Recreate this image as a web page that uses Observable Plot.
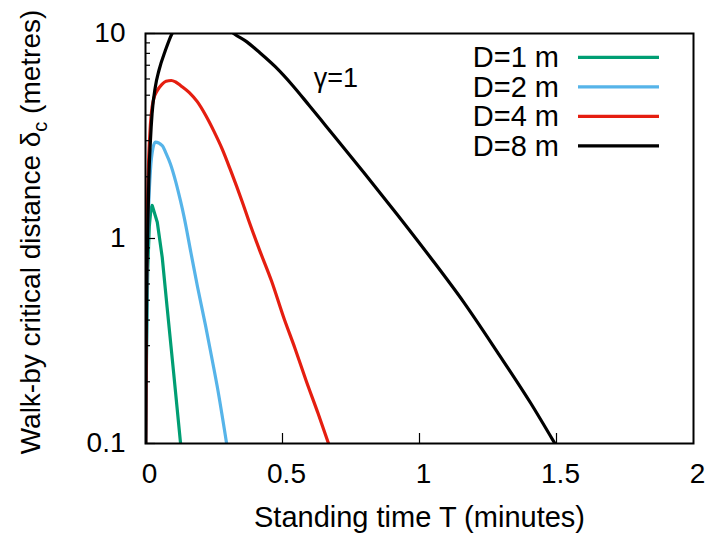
<!DOCTYPE html>
<html><head><meta charset="utf-8">
<script src="https://cdn.jsdelivr.net/npm/d3@7"></script>
<script src="https://cdn.jsdelivr.net/npm/@observablehq/plot@0.6"></script>
<style>
html,body{margin:0;padding:0;background:#fff;}
</style>
</head><body><div id="chart"></div>
<script>
// Series names and colours
const seriesNames = ["D=1 m", "D=2 m", "D=4 m", "D=8 m"];
const seriesColors = ["#009e73", "#56b4e9", "#e51e10", "#000000"];

// D = 1 m
const tD1 = [0.001, 0.004, 0.008, 0.014, 0.02, 0.0245, 0.043, 0.061, 0.079, 0.103, 0.128];
const dD1 = [0.1, 0.3, 0.7, 1.15, 1.4, 1.45, 1.2, 0.81, 0.46, 0.219, 0.1];

// D = 2 m
const tD2 = [0.001, 0.005, 0.01, 0.018, 0.027, 0.036, 0.061, 0.075, 0.091, 0.11, 0.128, 0.14, 0.166, 0.19, 0.219, 0.24, 0.262, 0.296];
const dD2 = [0.1, 0.5, 1.2, 2.15, 2.75, 2.95, 2.84, 2.6, 2.31, 1.9, 1.52, 1.29, 0.85, 0.58, 0.377, 0.27, 0.189, 0.1];

// D = 4 m
const tD4 = [0.001, 0.004, 0.008, 0.012, 0.018, 0.024, 0.03, 0.043, 0.06, 0.075, 0.094, 0.11, 0.13, 0.16, 0.189, 0.22, 0.249, 0.28, 0.31, 0.353, 0.377, 0.416, 0.46, 0.504, 0.546, 0.586, 0.63, 0.668];
const dD4 = [0.1, 0.6, 1.6, 2.5, 3.6, 4.37, 4.8, 5.27, 5.65, 5.85, 5.9, 5.8, 5.55, 5.15, 4.65, 3.98, 3.35, 2.73, 2.16, 1.51, 1.22, 0.88, 0.62, 0.413, 0.29, 0.203, 0.14, 0.1];

// D = 8 m
const tD8 = [0.0005, 0.002, 0.0036, 0.0084, 0.012, 0.018, 0.024, 0.036, 0.049, 0.073, 0.097, 0.13, 0.17, 0.22, 0.27, 0.322, 0.37, 0.4135, 0.4745, 0.5354, 0.596, 0.657, 0.7967, 0.9186, 1.04, 1.1617, 1.2836, 1.405, 1.494];
const dD8 = [0.1, 0.25, 0.5, 1.09, 1.92, 3.0, 4.06, 5.5, 6.6, 8.3, 10, 11.3, 12.2, 12.3, 11.6, 10, 9.1, 8.14, 6.87, 5.61, 4.48, 3.56, 2.10, 1.31, 0.808, 0.488, 0.28, 0.158, 0.1];

// Axis ticks
const xTicks = [0, 0.5, 1, 1.5, 2];
const yTicks = [0.1, 1, 10];
const yMinor = [0.2, 0.3, 0.4, 0.5, 0.6, 0.7, 0.8, 0.9, 2, 3, 4, 5, 6, 7, 8, 9];

const xLabel = "Standing time T (minutes)";
const annotation = "γ=1";

const series = [[tD1, dD1], [tD2, dD2], [tD4, dD4], [tD8, dD8]];
const rowsFor = (i) => series[i][0].map((T, j) => ({T, delta: series[i][1][j], series: seriesNames[i]}));

const W = 725, H = 545, mL = 145, mR = 32, mT = 33, mB = 102;
const fw = W - mL - mR, fh = H - mT - mB;
const FONT = "'Liberation Sans', Arial, Helvetica, sans-serif";

const lineMarks = seriesNames.map((name, i) =>
  Plot.line(rowsFor(i), {
    x: "T", y: "delta", stroke: "series", strokeWidth: 3.2, clip: true,
    strokeLinejoin: "round", curve: i === 0 ? "linear" : "monotone-x"
  })
);

const plot = Plot.plot({
  width: W, height: H,
  marginLeft: mL, marginRight: mR, marginTop: mT, marginBottom: mB,
  style: {fontFamily: FONT, fontSize: "28px", color: "#000", background: "#fff", overflow: "visible"},
  x: {domain: [0, 2]},
  y: {type: "log", domain: [0.1, 10]},
  color: {domain: seriesNames, range: seriesColors},
  marks: [
    ...lineMarks,
    Plot.ruleX(xTicks.slice(1, -1), {x: d => d, insetTop: fh - 10, stroke: "#000", strokeWidth: 1.2}),
    Plot.ruleY(yTicks, {y: d => d, insetRight: fw - 10, stroke: "#000", strokeWidth: 1.2}),
    Plot.ruleY(yMinor, {y: d => d, insetRight: fw - 5, stroke: "#000", strokeWidth: 1.2}),
    Plot.frame({stroke: "#000", strokeWidth: 2}),
    Plot.axisX({ticks: xTicks, tickSize: 0, tickPadding: 20, dx: 4, tickFormat: d => String(d), label: null, fontSize: 28}),
    Plot.axisY({ticks: yTicks, tickSize: 0, tickPadding: 20, tickFormat: d => String(d), label: null, fontSize: 28}),
    Plot.text([xLabel], {text: d => d, frameAnchor: "bottom", dy: 83, lineAnchor: "bottom", fontSize: 29})
  ]
});

document.getElementById("chart").appendChild(plot);

const svg = d3.select(plot);

// Y axis title with subscript
const yt = svg.append("text")
  .attr("transform", "translate(40,232) rotate(-90)")
  .attr("text-anchor", "middle")
  .attr("font-family", FONT)
  .attr("font-size", 28)
  .attr("fill", "#000");
yt.append("tspan").text("Walk-by critical distance δ");
yt.append("tspan").attr("dy", 7).attr("font-size", 20).text("c");
yt.append("tspan").attr("dy", -7).text(" (metres)");

// Annotation
svg.append("text")
  .attr("x", 336).attr("y", 87)
  .attr("font-family", FONT).attr("font-size", 27).attr("fill", "#000")
  .text(annotation);

// Legend
const lg = svg.append("g");
seriesNames.forEach((name, i) => {
  const cy = 57.3 + i * 29.5;
  lg.append("text")
    .attr("x", 559).attr("y", cy + 10)
    .attr("text-anchor", "end")
    .attr("font-family", FONT).attr("font-size", 29).attr("fill", "#000")
    .text(name);
  lg.append("line")
    .attr("x1", 578).attr("x2", 659).attr("y1", cy).attr("y2", cy)
    .attr("stroke", seriesColors[i]).attr("stroke-width", 3.2);
});
</script>
</body></html>
